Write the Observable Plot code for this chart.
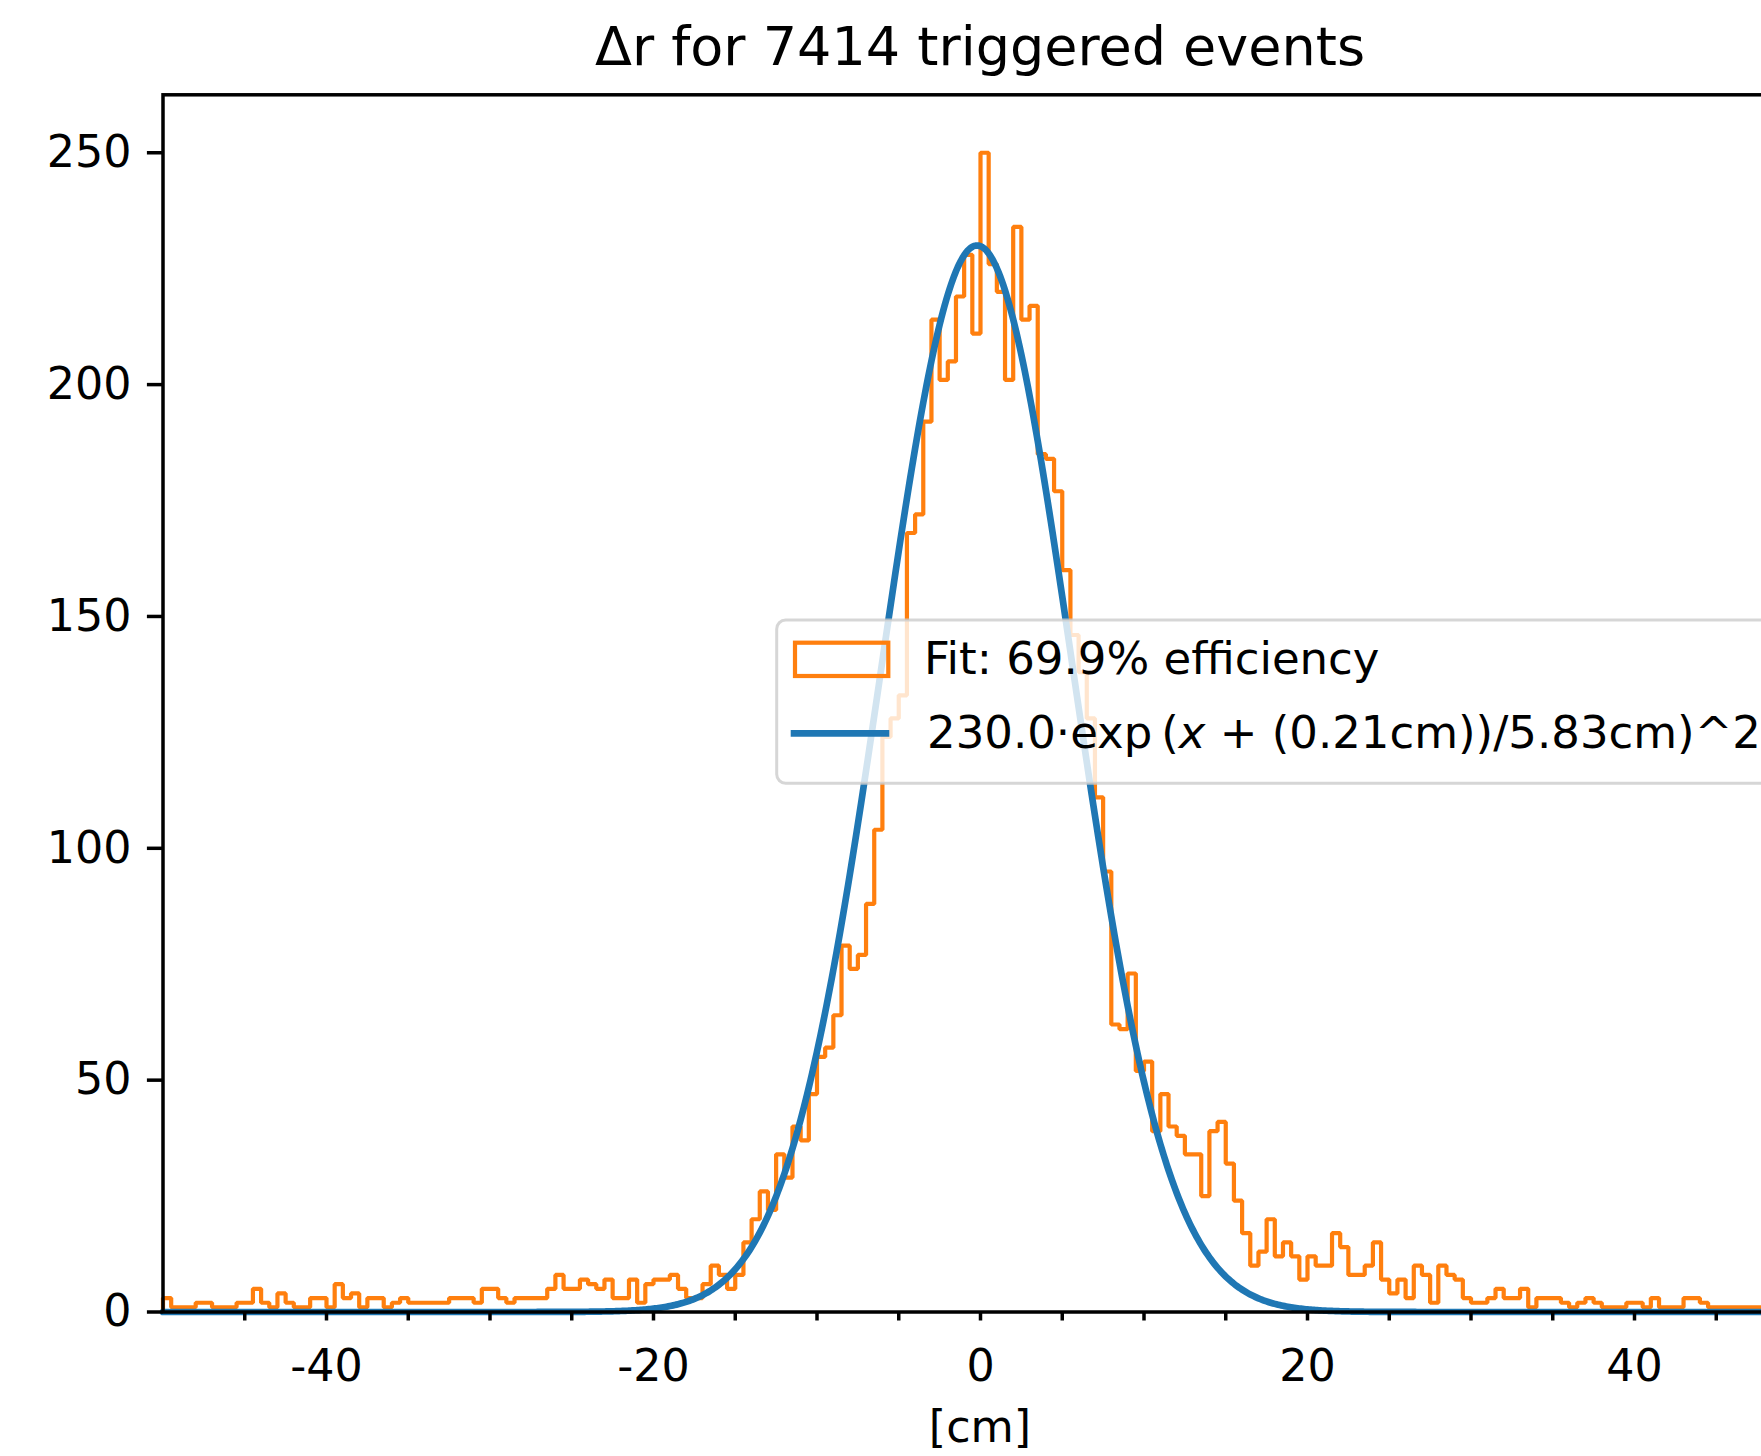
<!DOCTYPE html>
<html>
<head>
<meta charset="utf-8">
<script src="https://cdn.jsdelivr.net/npm/d3@7"></script>
<script src="https://cdn.jsdelivr.net/npm/@observablehq/plot@0.6"></script>
<style>
  html, body { margin: 0; padding: 0; background: #ffffff; overflow: hidden; }
  #wrap { width: 1761px; height: 1456px; overflow: hidden; position: relative; background: #ffffff; }
</style>
</head>
<body>
<div id="wrap"></div>
<script>
// ---------------- data ----------------
const binStart = -50;      // histogram range start [cm]
const binWidth = 0.5;      // histogram bin width [cm]
const counts = [
  3,1,1,1,2,2,1,1,1,2,
  2,5,2,1,4,2,1,1,3,3,
  1,6,3,4,1,3,3,1,2,3,
  2,2,2,2,2,3,3,3,2,5,
  5,3,2,3,3,3,3,5,8,5,
  5,7,6,5,7,3,3,7,2,6,
  7,7,8,5,3,3,6,10,8,5,
  8,15,20,26,22,34,29,40,37,47,
  55,57,64,79,74,77,88,104,124,128,
  133,168,172,192,214,201,205,219,228,211,
  250,226,220,201,234,214,217,185,184,177,
  160,146,138,128,111,95,62,61,73,52,
  54,39,47,40,38,34,34,25,39,41,
  32,24,17,10,13,20,12,15,12,7,
  12,10,10,17,14,8,8,10,15,7,
  4,7,3,10,8,2,10,8,7,3,
  2,2,3,5,3,3,5,1,3,3,
  3,2,1,2,3,2,1,1,1,2,
  2,1,3,1,1,1,3,3,2,1,
  1,1,1,1,1,1,1,1,1,1
];
const fitAmplitude = 230.0;  // from legend
const fitMean = -0.21;       // x + 0.21 cm
const fitSigma = 5.83;       // cm
const xDomain = [-50, 50];
const yDomain = [0, 262.5];
const xTickValues = [-45, -40, -35, -30, -25, -20, -15, -10, -5, 0, 5, 10, 15, 20, 25, 30, 35, 40, 45];
const xTickLabels = {"-40": "-40", "-20": "-20", "0": "0", "20": "20", "40": "40"};
const yTickValues = [0, 50, 100, 150, 200, 250];
const titleText = "Δr for 7414 triggered events";
const xLabelText = "[cm]";
const legendHistLabel = "Fit: 69.9% efficiency";
const legendFitParts = ["230.0·exp\u2009(", "x", " + (0.21cm))/5.83cm)^2"];

// ---------------- derived ----------------
const histPts = [{x: binStart, y: 0}];
counts.forEach((c, i) => histPts.push({x: binStart + i * binWidth, y: c}));
histPts.push({x: binStart + counts.length * binWidth, y: counts[counts.length - 1]});
histPts.push({x: binStart + counts.length * binWidth, y: 0});

const fitPts = d3.range(0, 1001).map(i => {
  const x = xDomain[0] + i * (xDomain[1] - xDomain[0]) / 1000;
  return {x, y: fitAmplitude * Math.exp(-0.5 * ((x - fitMean) / fitSigma) ** 2)};
});

const ORANGE = "#ff7f0e", BLUE = "#1f77b4";
const FONT = "DejaVu Sans";

const svg = Plot.plot({
  width: 1798,
  height: 1456,
  marginLeft: 162.5,
  marginRight: 0.5,
  marginTop: 94.3,
  marginBottom: 144.5,
  x: {domain: xDomain},
  y: {domain: yDomain},
  style: {fontFamily: FONT, fontSize: "44.4px", background: "#ffffff", maxWidth: "none", overflow: "visible", color: "#000000"},
  marks: [
    Plot.line(histPts, {x: "x", y: "y", curve: "step-after", stroke: ORANGE, strokeWidth: 4.2, strokeLinejoin: "miter"}),
    Plot.line(fitPts, {x: "x", y: "y", stroke: BLUE, strokeWidth: 6.7}),
    Plot.frame({stroke: "#000000", strokeWidth: 3.5}),
    Plot.axisX({
      ticks: xTickValues, tickSize: 9, tickPadding: 28, strokeWidth: 3.5,
      tickFormat: d => xTickLabels[String(d)] ?? "",
      fontSize: 44.4, label: null
    }),
    Plot.axisY({
      ticks: yTickValues, tickSize: 15.6, tickPadding: 15.9, strokeWidth: 3.5,
      tickFormat: d => String(d), fontSize: 44.4, label: null
    })
  ]
});

document.getElementById("wrap").appendChild(svg);

// ---------------- annotations (title, x label, legend) ----------------
const s = d3.select(svg);
const cx = (162.5 + 1797.5) / 2;

s.append("text")
  .attr("x", cx).attr("y", 65)
  .attr("text-anchor", "middle")
  .attr("font-family", FONT).attr("font-size", 54)
  .attr("fill", "#000000")
  .text(titleText);

s.append("text")
  .attr("x", cx).attr("y", 1442)
  .attr("text-anchor", "middle")
  .attr("font-family", FONT).attr("font-size", 44.4)
  .attr("fill", "#000000")
  .text(xLabelText);

const lg = s.append("g").attr("text-anchor", "start");
lg.append("rect")
  .attr("x", 776.7).attr("y", 620).attr("width", 1200).attr("height", 163.3)
  .attr("rx", 9).attr("ry", 9)
  .attr("fill", "#ffffff").attr("fill-opacity", 0.8)
  .attr("stroke", "#cccccc").attr("stroke-opacity", 0.8).attr("stroke-width", 3);
lg.append("rect")
  .attr("x", 795).attr("y", 642.7).attr("width", 93.3).attr("height", 33.3)
  .attr("fill", "none").attr("stroke", ORANGE).attr("stroke-width", 4.2);
lg.append("line")
  .attr("x1", 790.7).attr("x2", 889.3).attr("y1", 733.3).attr("y2", 733.3)
  .attr("stroke", BLUE).attr("stroke-width", 6.7);
lg.append("text")
  .attr("x", 924).attr("y", 673.5)
  .attr("text-anchor", "start")
  .attr("font-family", FONT).attr("font-size", 45).attr("fill", "#000000")
  .text(legendHistLabel);
const t2 = lg.append("text")
  .attr("x", 927).attr("y", 748)
  .attr("text-anchor", "start")
  .attr("font-family", FONT).attr("font-size", 45).attr("fill", "#000000")
  .attr("xml:space", "preserve");
t2.append("tspan").text(legendFitParts[0]);
t2.append("tspan").attr("font-style", "italic").text(legendFitParts[1]);
t2.append("tspan").text(legendFitParts[2]);
</script>
</body>
</html>
